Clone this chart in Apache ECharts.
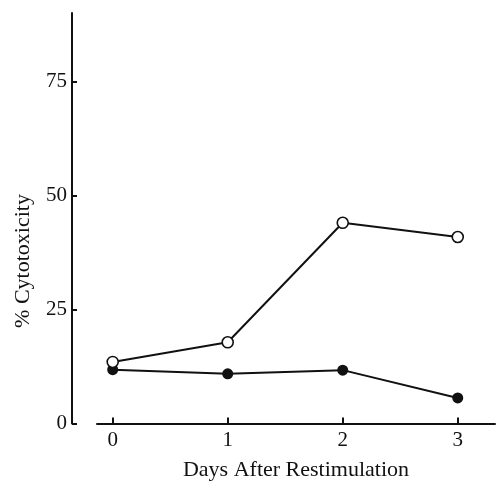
<!DOCTYPE html>
<html>
<head>
<meta charset="utf-8">
<script src="https://cdn.jsdelivr.net/npm/echarts@6/dist/echarts.min.js"></script>
<style>html,body{margin:0;padding:0;background:#fff;}#c{width:496px;height:482px;}</style>
</head>
<body>
<div id="c"></div>
<script>
var days = [0, 1, 2, 3];
var openValues = [13.5, 17.8, 44.0, 40.9];
var closedValues = [11.8, 10.9, 11.7, 5.6];
var yTicks = [0, 25, 50, 75];
var xTitle = 'Days After Restimulation';
var yTitle = '% Cytotoxicity';

var FONT = '"Liberation Serif", "Times New Roman", serif';
var INK = '#111';

function pairs(xs, ys) { return xs.map(function (x, i) { return [x, ys[i]]; }); }

var chart = echarts.init(document.getElementById('c'), null, { renderer: 'canvas' });
chart.setOption({
  backgroundColor: '#fff',
  animation: false,
  grid: [
    { left: 72, right: 1, top: 13, bottom: 58.5, containLabel: false, outerBoundsMode: 'none' },
    { left: 97, right: 1, top: 13, bottom: 58.5, containLabel: false, outerBoundsMode: 'none' }
  ],
  xAxis: [
    { gridIndex: 0, type: 'value', min: -0.354, max: 3.324, show: false },
    {
      gridIndex: 1, type: 'value', min: -0.1365, max: 3.324,
      splitLine: { show: false },
      axisLine: { show: true, onZero: false, lineStyle: { color: INK, width: 2 } },
      axisTick: { show: true, inside: true, length: 6, customValues: days, lineStyle: { color: INK, width: 2 } },
      axisLabel: { show: true, customValues: days, margin: 6, color: INK, fontFamily: FONT, fontSize: 21 },
      name: xTitle, nameLocation: 'middle', nameGap: 36,
      nameTextStyle: { color: INK, fontFamily: FONT, fontSize: 22 }
    }
  ],
  yAxis: [
    {
      gridIndex: 0, type: 'value', min: 0, max: 90,
      splitLine: { show: false },
      axisLine: { show: true, onZero: false, lineStyle: { color: INK, width: 2 } },
      axisTick: { show: true, inside: true, length: 5, customValues: yTicks, lineStyle: { color: INK, width: 2 } },
      axisLabel: { show: true, customValues: yTicks, margin: 5, color: INK, fontFamily: FONT, fontSize: 21 }
    },
    { gridIndex: 1, type: 'value', min: 0, max: 90, show: false }
  ],
  graphic: [
    {
      type: 'text', x: 23, y: 261, rotation: Math.PI / 2,
      style: { text: yTitle, fill: INK, font: '22px ' + FONT, textAlign: 'center', textVerticalAlign: 'middle' }
    }
  ],
  series: [
    {
      type: 'line', xAxisIndex: 1, yAxisIndex: 1,
      data: pairs(days, closedValues),
      symbol: 'circle', symbolSize: 11,
      lineStyle: { color: INK, width: 2 },
      itemStyle: { color: INK, borderColor: INK, borderWidth: 0 },
      z: 3
    },
    {
      type: 'line', xAxisIndex: 1, yAxisIndex: 1,
      data: pairs(days, openValues),
      symbol: 'circle', symbolSize: 11,
      lineStyle: { color: INK, width: 2 },
      itemStyle: { color: '#fff', borderColor: INK, borderWidth: 1.6 },
      z: 4
    }
  ]
});
</script>
</body>
</html>
